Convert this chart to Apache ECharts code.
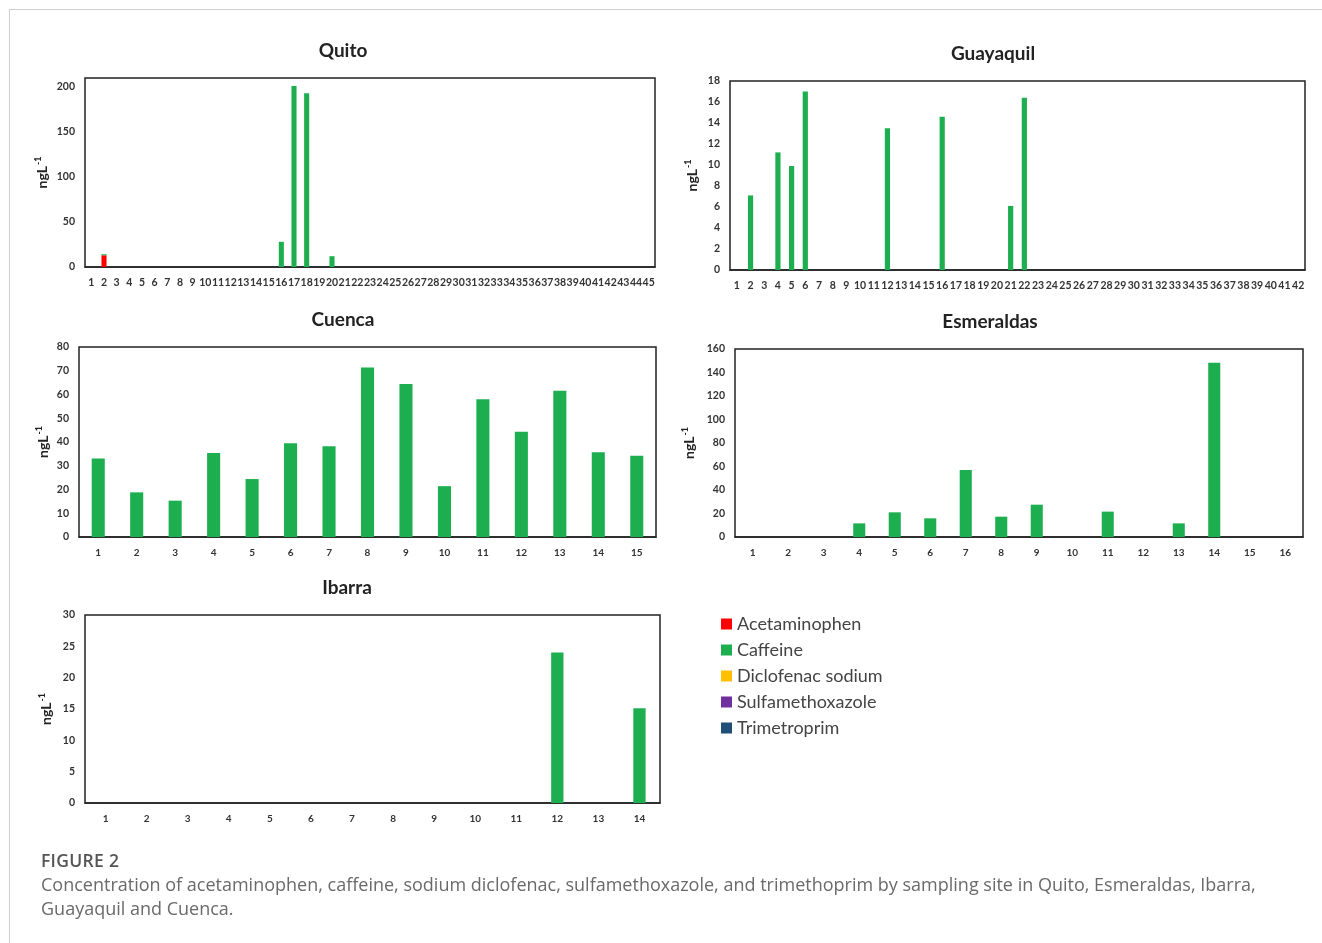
<!DOCTYPE html>
<html>
<head>
<meta charset="utf-8">
<script src="https://cdn.jsdelivr.net/npm/echarts@6/dist/echarts.min.js"></script>
<style>
  html, body { margin: 0; padding: 0; background: #fff; }
  #frame { position: absolute; left: 9px; top: 9px; width: 1320px; height: 940px;
           border-top: 1.5px solid #cfcfcf; border-left: 1.5px solid #cfcfcf; }
  #chart { position: absolute; left: 0; top: 0; width: 1322px; height: 943px; }
  #cap1 { position: absolute; left: 41px; top: 848px; font-family: "Open Sans", sans-serif;
          font-size: 17.5px; font-weight: 600; color: #555; letter-spacing: 0.3px; }
  #cap2 { position: absolute; left: 41px; top: 872px; width: 1240px; font-family: "Open Sans", sans-serif;
          font-size: 18px; line-height: 24px; color: #6a6a6a; }
</style>
</head>
<body>
<div id="frame"></div>
<div id="chart"></div>
<div id="cap1">FIGURE 2</div>
<div id="cap2">Concentration of acetaminophen, caffeine, sodium diclofenac, sulfamethoxazole, and trimethoprim by sampling site in Quito, Esmeraldas, Ibarra, Guayaquil and Cuenca.</div>
<script>
// ---- data ----
const compounds = ['Acetaminophen', 'Caffeine', 'Diclofenac sodium', 'Sulfamethoxazole', 'Trimetroprim'];
const compoundColors = ['#FF0000', '#1DAF4F', '#FFC000', '#7030A0', '#1F4E79'];

const cities = ['Quito', 'Guayaquil', 'Cuenca', 'Esmeraldas', 'Ibarra'];

const quitoSites = Array.from({length: 45}, (_, i) => String(i + 1));
const guayaquilSites = Array.from({length: 42}, (_, i) => String(i + 1));
const cuencaSites = ['1','2','3','4','5','6','7','8','9','10','11','12','13','14','15'];
const esmeraldasSites = ['1','2','3','4','5','6','7','8','9','10','11','12','13','14','15','16'];
const ibarraSites = ['1','2','3','4','5','6','7','8','9','10','11','12','13','14'];

// Quito
const quitoAcetaminophen = [0,13,0,0,0,0,0,0,0,0,0,0,0,0,0,0,0,0,0,0,0,0,0,0,0,0,0,0,0,0,0,0,0,0,0,0,0,0,0,0,0,0,0,0,0];
const quitoCaffeine =      [0,1.2,0,0,0,0,0,0,0,0,0,0,0,0,0,28,201,193,0,12,0,0,0,0,0,0,0,0,0,0,0,0,0,0,0,0,0,0,0,0,0,0,0,0,0];
// Guayaquil
const guayaquilCaffeine = [0,7.1,0,11.2,9.9,17.0,0,0,0,0,0,13.5,0,0,0,14.6,0,0,0,0,6.1,16.4,0,0,0,0,0,0,0,0,0,0,0,0,0,0,0,0,0,0,0,0];
// Cuenca
const cuencaCaffeine = [33.1,18.8,15.3,35.4,24.4,39.5,38.2,71.4,64.4,21.4,58.0,44.3,61.6,35.7,34.2];
// Esmeraldas
const esmeraldasCaffeine = [0,0,0,11.6,21,15.9,57,17.3,27.5,0,21.6,0,11.6,148.4,0,0];
// Ibarra
const ibarraCaffeine = [0,0,0,0,0,0,0,0,0,0,0,24.0,0,15.1];

const yMax = [210, 18, 80, 160, 30];
const yInterval = [50, 2, 10, 20, 5];

// ---- layout ----
const grids = [
  {left: 85,  top: 78,  width: 570, height: 189},
  {left: 730, top: 81,  width: 575, height: 189},
  {left: 79,  top: 347, width: 577, height: 190},
  {left: 735, top: 349, width: 568, height: 188},
  {left: 85,  top: 615, width: 575, height: 188}
];
const titlePos = [[338, 36], [988, 39], [338, 305], [985, 307], [342, 573]];
const nameGaps = [34, 29, 27, 37, 30];
const catWidths = ['60%', '62%', '66%', '66%', '70%'];
const siteLists = [quitoSites, guayaquilSites, cuencaSites, esmeraldasSites, ibarraSites];

const FONT = 'Lato, "Open Sans", sans-serif';

const option = {
  animation: false,
  backgroundColor: 'transparent',
  color: compoundColors,
  title: cities.map((c, i) => ({
    text: c, left: titlePos[i][0], top: titlePos[i][1], textAlign: 'center',
    textStyle: {fontFamily: FONT, fontSize: 19, fontWeight: 'bold', color: '#222'}
  })),
  legend: {
    data: compounds, orient: 'vertical', left: 716, top: 610, itemWidth: 11, itemHeight: 11,
    itemGap: 8, icon: 'rect',
    textStyle: {fontFamily: FONT, fontSize: 18, color: '#444', padding: [0,0,0,0]}
  },
  grid: grids.map(g => Object.assign({show: true, borderColor: '#222', borderWidth: 1.5, backgroundColor: '#fff'}, g)),
  xAxis: siteLists.map((s, i) => ({
    type: 'category', gridIndex: i, data: s,
    axisLine: {show: true, lineStyle: {color: '#222', width: 1.5}},
    axisTick: {show: false},
    axisLabel: {interval: 0, fontFamily: FONT, fontSize: i < 2 ? 10.5 : 10, fontWeight: 'bold', color: '#333', margin: i < 2 ? 10 : 11}
  })),
  yAxis: yMax.map((m, i) => ({
    type: 'value', gridIndex: i, min: 0, max: m, interval: yInterval[i],
    splitLine: {show: false}, axisLine: {show: false}, axisTick: {show: false},
    axisLabel: {fontFamily: FONT, fontSize: 10.5, fontWeight: 'bold', color: '#333', margin: 10,
      formatter: v => (v % yInterval[i] === 0 ? String(v) : '')},
    name: 'ngL{s|-1}', nameLocation: 'middle', nameGap: nameGaps[i], nameRotate: 90,
    nameTextStyle: {fontFamily: FONT, fontSize: 14, fontWeight: 'bold', color: '#222',
      rich: {s: {fontSize: 9, fontWeight: 'bold', color: '#222', verticalAlign: 'top', padding: [0,0,8,1]}}}
  })),
  series: []
};

function bar(name, idx, data, gi) {
  return {
    name: name, type: 'bar', stack: 'c' + gi, xAxisIndex: gi, yAxisIndex: gi, data: data,
    barCategoryGap: catWidths[gi], itemStyle: {color: compoundColors[idx]}
  };
}
option.series.push(bar('Acetaminophen', 0, quitoAcetaminophen, 0));
option.series.push(bar('Caffeine', 1, quitoCaffeine, 0));
option.series.push(bar('Caffeine', 1, guayaquilCaffeine, 1));
option.series.push(bar('Caffeine', 1, cuencaCaffeine, 2));
option.series.push(bar('Caffeine', 1, esmeraldasCaffeine, 3));
option.series.push(bar('Caffeine', 1, ibarraCaffeine, 4));
// compounds not detected (legend entries only)
option.series.push(bar('Diclofenac sodium', 2, [], 0));
option.series.push(bar('Sulfamethoxazole', 3, [], 0));
option.series.push(bar('Trimetroprim', 4, [], 0));

const chart = echarts.init(document.getElementById('chart'), null, {renderer: 'canvas'});
chart.setOption(option);
</script>
</body>
</html>
